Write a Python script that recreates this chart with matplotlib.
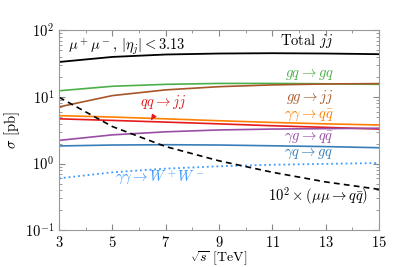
import matplotlib
matplotlib.use('Agg')
import matplotlib.pyplot as plt
import numpy as np

plt.rcParams['font.family'] = 'serif'
plt.rcParams['font.serif'] = ['cmr10']
plt.rcParams['mathtext.fontset'] = 'cm'
plt.rcParams['axes.formatter.use_mathtext'] = True

# sqrt(s) in TeV
sqrt_s = [3, 5, 7, 9, 11, 13, 15]

# cross sections in pb
total_jj = [33.6, 40.0, 43.5, 45.0, 45.5, 45.0, 44.0]
gq_gq = [12.4, 14.5, 15.5, 16.0, 16.0, 15.8, 15.5]
gg_jj = [7.1, 10.5, 12.8, 14.3, 15.2, 15.7, 15.9]
aa_qq = [5.25, 5.0, 4.7, 4.4, 4.15, 3.95, 3.8]
qq_jj = [4.7, 4.45, 4.2, 3.95, 3.7, 3.5, 3.3]
ag_qq = [2.23, 2.7, 3.0, 3.2, 3.3, 3.35, 3.4]
aq_gq = [1.84, 1.9, 1.92, 1.9, 1.85, 1.8, 1.73]
aa_ww = [0.60, 0.74, 0.84, 0.91, 0.96, 0.99, 1.02]
mumu_qq = [9.9, 3.6, 1.8, 1.1, 0.74, 0.53, 0.41]

fig, ax = plt.subplots(figsize=(3.99, 2.67), dpi=100)
fig.subplots_adjust(left=0.148, right=0.95, top=0.886, bottom=0.138)

ax.plot(sqrt_s, total_jj, color='black', lw=1.3)
ax.plot(sqrt_s, gq_gq, color='#4daf4a', lw=1.2)
ax.plot(sqrt_s, gg_jj, color='#a65628', lw=1.2)
ax.plot(sqrt_s, aa_qq, color='#ff7f00', lw=1.2)
ax.plot(sqrt_s, qq_jj, color='#e41a1c', lw=1.2)
ax.plot(sqrt_s, ag_qq, color='#984ea3', lw=1.2)
ax.plot(sqrt_s, aq_gq, color='#377eb8', lw=1.2)
ax.plot(sqrt_s, aa_ww, color='#3d9bff', lw=1.3, ls=':')
ax.plot(sqrt_s, mumu_qq, color='black', lw=1.2, ls=(0, (3.5, 2.5)))

ax.set_yscale('log')
ax.set_xlim(3, 15)
ax.set_ylim(0.1, 100)
ax.set_xticks([3, 5, 7, 9, 11, 13, 15])
ax.set_xticks(np.arange(3, 16, 1), minor=True)
ax.tick_params(which='both', direction='in', top=True, right=True,
               color='#888888', labelsize=10.5)
ax.tick_params(which='major', length=4)
ax.tick_params(which='minor', length=2)
for sp in ax.spines.values():
    sp.set_color('#999999')

ax.set_xlabel(r'$\sqrt{s}$ [TeV]', fontsize=10, labelpad=-0.5)
ax.set_ylabel(r'$\sigma$ [pb]', fontsize=10.5, labelpad=2)

fs = 10.5
ax.text(3.35, 57, r'$\mu^+\mu^-$, $|\eta_j| < 3.13$', fontsize=fs, color='black', va='center')
ax.text(13.3, 70, r'Total $jj$', fontsize=fs, color='black', ha='right', va='center')
ax.text(13.3, 22, r'$gq \to gq$', fontsize=fs, color='#4daf4a', ha='right', va='center')
ax.text(13.3, 10.0, r'$gg \to jj$', fontsize=fs, color='#a65628', ha='right', va='center')
ax.text(13.3, 5.3, r'$\gamma\gamma \to q\bar{q}$', fontsize=fs, color='#ff7f00', ha='right', va='center')
ax.text(13.3, 2.5, r'$\gamma g \to q\bar{q}$', fontsize=fs, color='#984ea3', ha='right', va='center')
ax.text(13.3, 1.38, r'$\gamma q \to gq$', fontsize=fs, color='#377eb8', ha='right', va='center')
ax.text(5.1, 0.62, r'$\gamma\gamma \to W^+W^-$', fontsize=fs, color='#3d9bff', ha='left', va='center')
ax.text(14.6, 0.32, r'$10^2 \times (\mu\mu \to q\bar{q})$', fontsize=fs, color='black', ha='right', va='center')
ax.annotate(r'$qq \to jj$', xy=(6.45, 4.5), xytext=(6.9, 8.4), fontsize=fs,
            color='#e41a1c', ha='center', va='center',
            arrowprops=dict(arrowstyle='-|>', color='#e41a1c', lw=1.0,
                            mutation_scale=7, shrinkA=4, shrinkB=0))

plt.savefig('out.png', dpi=100)
